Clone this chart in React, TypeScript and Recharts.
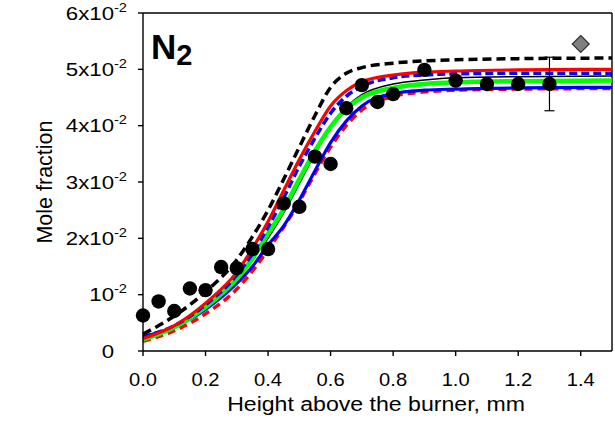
import React from 'react';
import {
  ComposedChart,
  Line,
  Scatter,
  XAxis,
  YAxis,
  ErrorBar,
  ReferenceLine,
} from 'recharts';

// Height above the burner (mm) for the model curves
const curveX = [0, 0.1, 0.2, 0.3, 0.35, 0.4, 0.45, 0.5, 0.55, 0.6, 0.65, 0.7, 0.8, 0.9, 1.0, 1.2, 1.5];

// Model mole fractions, in units of 10^-2
const blackDashed = [0.30, 0.62, 1.05, 1.62, 2.03, 2.5, 3.05, 3.62, 4.18, 4.68, 4.93, 5.03, 5.11, 5.15, 5.17, 5.19, 5.20];
const redSolid = [0.22, 0.45, 0.85, 1.4, 1.82, 2.3, 2.85, 3.4, 3.9, 4.35, 4.62, 4.78, 4.9, 4.95, 4.97, 4.99, 5.0];
const blueDashed = [0.25, 0.45, 0.82, 1.35, 1.73, 2.2, 2.72, 3.28, 3.78, 4.22, 4.52, 4.7, 4.85, 4.9, 4.92, 4.93, 4.93];
const blackThin = [0.22, 0.43, 0.79, 1.28, 1.62, 2.0, 2.45, 2.97, 3.5, 3.97, 4.33, 4.55, 4.74, 4.81, 4.85, 4.87, 4.88];
const greenSolid = [0.2, 0.42, 0.78, 1.28, 1.64, 2.08, 2.52, 3.05, 3.55, 3.98, 4.3, 4.5, 4.67, 4.74, 4.77, 4.79, 4.8];
const blueSolid = [0.25, 0.43, 0.74, 1.2, 1.5, 1.88, 2.22, 2.68, 3.2, 3.7, 4.08, 4.35, 4.57, 4.63, 4.65, 4.67, 4.68];
const redDashed = [0.17, 0.36, 0.66, 1.1, 1.42, 1.8, 2.2, 2.65, 3.15, 3.62, 4.0, 4.28, 4.52, 4.6, 4.63, 4.65, 4.66];

// Measured profile (units of 10^-2)
const measX = [0, 0.05, 0.1, 0.15, 0.2, 0.25, 0.3, 0.35, 0.4, 0.45, 0.5, 0.55, 0.6, 0.65, 0.7, 0.75, 0.8, 0.9, 1.0, 1.1, 1.2];
const measY = [0.63, 0.88, 0.71, 1.11, 1.08, 1.49, 1.47, 1.81, 1.81, 2.62, 2.56, 3.45, 3.32, 4.31, 4.72, 4.42, 4.56, 4.99, 4.80, 4.74, 4.74];

// Point carrying the experimental uncertainty
const errX = [1.3];
const errY = [4.74];
const errSize = [0.475];

// Separate reference value
const refX = [1.4];
const refY = [5.45];

const yTicks = [0, 1, 2, 3, 4, 5, 6];
const xTicks = [0, 0.2, 0.4, 0.6, 0.8, 1.0, 1.2, 1.4];

const SCALE = 0.01;

const curveRows = curveX.map((x, i) => ({
  x,
  bd: blackDashed[i] * SCALE,
  rs: redSolid[i] * SCALE,
  bld: blueDashed[i] * SCALE,
  bk: blackThin[i] * SCALE,
  g: greenSolid[i] * SCALE,
  bs: blueSolid[i] * SCALE,
  rd: redDashed[i] * SCALE,
}));

const measRows = measX.map((x, i) => ({ x, y: measY[i] * SCALE }));
const errRows = errX.map((x, i) => ({ x, y: errY[i] * SCALE, err: errSize[i] * SCALE }));
const refRows = refX.map((x, i) => ({ x, y: refY[i] * SCALE }));

const FONT = '"Liberation Sans", Arial, Helvetica, sans-serif';

const Dot = (props: any) => {
  const { cx, cy } = props;
  if (cx == null || cy == null) return null;
  return <circle cx={cx} cy={cy} r={7.2} fill="#000" />;
};

const Diamond = (props: any) => {
  const { cx, cy } = props;
  if (cx == null || cy == null) return null;
  const s = 8.5;
  return (
    <polygon
      points={`${cx},${cy - s} ${cx + s},${cy} ${cx},${cy + s} ${cx - s},${cy}`}
      fill="#808080"
      stroke="#333"
      strokeWidth={1.2}
    />
  );
};

const YTick = (props: any) => {
  const { y, payload } = props;
  const k = Math.round(payload.value * 100);
  const base = 0.716 * 19 / 2;
  if (k === 0) {
    return (
      <text
        transform={`translate(114,${y + base}) scale(1.17,1)`}
        textAnchor="end"
        fontFamily={FONT}
        fontSize={19}
        fill="#000"
      >
        0
      </text>
    );
  }
  const lead = k === 1 ? '10' : `${k}x10`;
  return (
    <text
      transform={`translate(127,${y + base}) scale(1.17,1)`}
      textAnchor="end"
      fontFamily={FONT}
      fontSize={19}
      fill="#000"
    >
      <tspan>{lead}</tspan>
      <tspan dy={-8} fontSize={12.5}>-2</tspan>
    </text>
  );
};

const XTick = (props: any) => {
  const { x, payload } = props;
  return (
    <text
      transform={`translate(${x},386) scale(1.12,1)`}
      textAnchor="middle"
      fontFamily={FONT}
      fontSize={18}
      fill="#000"
    >
      {payload.value.toFixed(1)}
    </text>
  );
};

export default function App() {
  return (
    <div style={{ position: 'absolute', left: 0, top: 0, width: 615, height: 433, background: '#fff' }}>
      <ComposedChart
        width={615}
        height={433}
        data={curveRows}
        margin={{ top: 13, right: 3, bottom: 0, left: 0 }}
      >
        <XAxis
          type="number"
          dataKey="x"
          domain={[0, 1.5]}
          ticks={xTicks}
          height={82}
          tick={<XTick />}
          tickSize={5}
          axisLine={{ stroke: '#000', strokeWidth: 1.4 }}
          tickLine={{ stroke: '#000', strokeWidth: 1.4 }}
        />
        <YAxis
          type="number"
          domain={[0, 0.06]}
          ticks={yTicks.map((t) => t * SCALE)}
          width={143}
          tick={<YTick />}
          tickSize={5}
          axisLine={{ stroke: '#000', strokeWidth: 1.4 }}
          tickLine={{ stroke: '#000', strokeWidth: 1.4 }}
        />
        <ReferenceLine y={0.06} stroke="#000" strokeWidth={1.4} />
        <ReferenceLine x={1.5} stroke="#000" strokeWidth={1.4} />

        <Line type="monotone" dataKey="rd" stroke="#ff0000" strokeWidth={3.5} strokeDasharray="8 5" dot={false} isAnimationActive={false} />
        <Line type="monotone" dataKey="bs" stroke="#0000ff" strokeWidth={3.2} dot={false} isAnimationActive={false} />
        <Line type="monotone" dataKey="bk" stroke="#000" strokeWidth={1.5} dot={false} isAnimationActive={false} />
        <Line type="monotone" dataKey="g" stroke="#00ff00" strokeWidth={4.5} dot={false} isAnimationActive={false} />
        <Line type="monotone" dataKey="bld" stroke="#0000ff" strokeWidth={3.5} strokeDasharray="8 4" dot={false} isAnimationActive={false} />
        <Line type="monotone" dataKey="rs" stroke="#ff0000" strokeWidth={3.2} dot={false} isAnimationActive={false} />
        <Line type="monotone" dataKey="bd" stroke="#000" strokeWidth={3.5} strokeDasharray="9 5" dot={false} isAnimationActive={false} />

        <Scatter data={measRows} dataKey="y" shape={<Dot />} isAnimationActive={false} />
        <Scatter data={errRows} dataKey="y" shape={<Dot />} isAnimationActive={false}>
          <ErrorBar dataKey="err" width={5} stroke="#000" strokeWidth={1.2} direction="y" />
        </Scatter>
        <Scatter data={refRows} dataKey="y" shape={<Diamond />} isAnimationActive={false} />
      </ComposedChart>

      <svg
        width={615}
        height={433}
        style={{ position: 'absolute', left: 0, top: 0, pointerEvents: 'none' }}
      >
        <text x={151} y={59} fontFamily={FONT} fontSize={35} fontWeight="bold" fill="#000">
          N<tspan dy={6} fontSize={29}>2</tspan>
        </text>
        <text
          transform="translate(52,182) rotate(-90)"
          textAnchor="middle"
          fontFamily={FONT}
          fontSize={21.5}
          fill="#000"
        >
          Mole fraction
        </text>
        <text
          transform="translate(376,411) scale(1.1,1)"
          textAnchor="middle"
          fontFamily={FONT}
          fontSize={21}
          fill="#000"
        >
          Height above the burner, mm
        </text>
      </svg>
    </div>
  );
}
